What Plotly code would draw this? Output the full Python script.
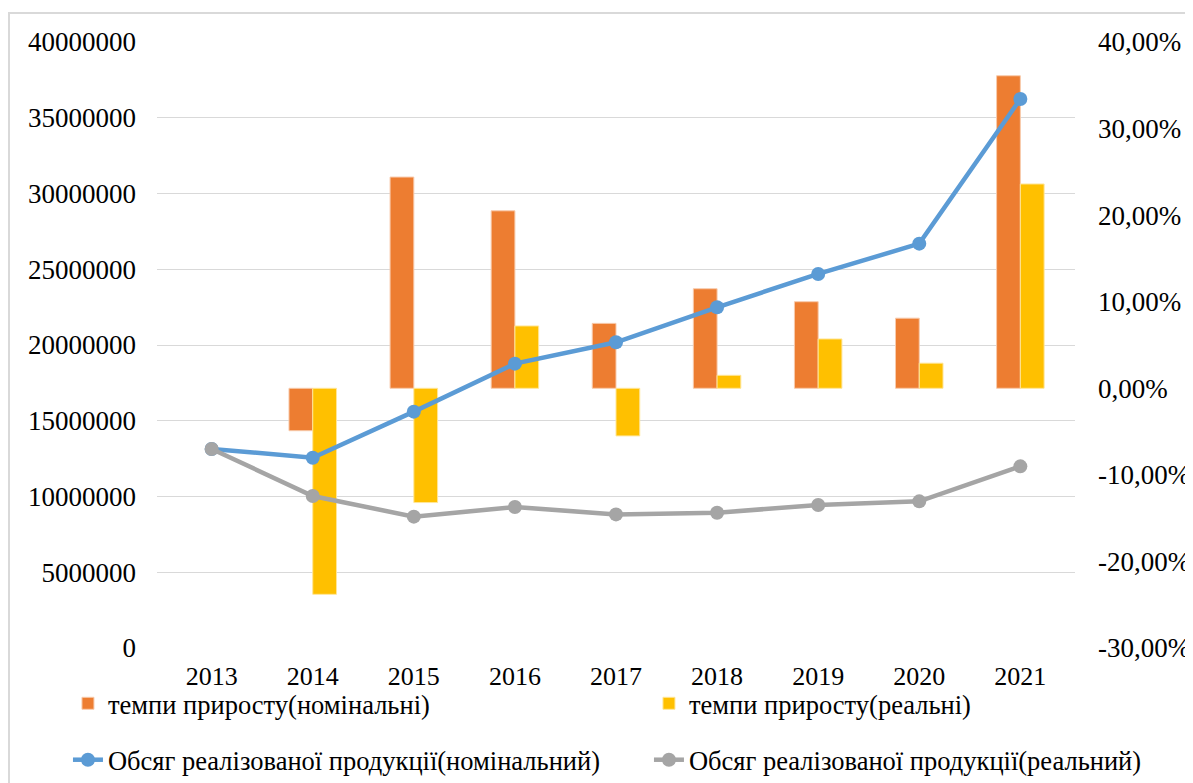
import plotly.graph_objects as go

years = ['2013', '2014', '2015', '2016', '2017', '2018', '2019', '2020', '2021']

# growth rates, fraction
rate_nominal = [None, -0.049, 0.244, 0.205, 0.075, 0.115, 0.100, 0.081, 0.361]
rate_real = [None, -0.238, -0.132, 0.072, -0.055, 0.015, 0.057, 0.029, 0.236]

# sales volume
volume_nominal = [13140000, 12560000, 15600000, 18770000, 20180000, 22490000, 24690000, 26690000, 36240000]
volume_real = [13140000, 10030000, 8670000, 9310000, 8820000, 8930000, 9440000, 9680000, 11990000]

pct_ticks = [-0.3, -0.2, -0.1, 0.0, 0.1, 0.2, 0.3, 0.4]
pct_labels = ['-30,00%', '-20,00%', '-10,00%', '0,00%', '10,00%', '20,00%', '30,00%', '40,00%']

FONT = 'Liberation Serif'
ORANGE = '#ED7D31'
YELLOW = '#FFC000'
BLUE = '#5B9BD5'
GRAY = '#A5A5A5'

fig = go.Figure()

# bars on the primary (right-side) axis so the lines sit on top
fig.add_trace(go.Bar(x=years, y=rate_nominal, name='темпи приросту(номінальні)',
                     marker=dict(color=ORANGE, line=dict(color='#F8CBAD', width=1)),
                     yaxis='y', legend='legend'))
fig.add_trace(go.Bar(x=years, y=rate_real, name='темпи приросту(реальні)',
                     marker=dict(color=YELLOW, line=dict(color='#FFE699', width=1)),
                     yaxis='y', legend='legend2'))

fig.add_trace(go.Scatter(x=years, y=volume_nominal, name='Обсяг реалізованої продукції(номінальний)',
                         mode='lines+markers', line=dict(color=BLUE, width=4.5),
                         marker=dict(size=14, color=BLUE), yaxis='y2', legend='legend3'))
fig.add_trace(go.Scatter(x=years, y=volume_real, name='Обсяг реалізованої продукції(реальний)',
                         mode='lines+markers', line=dict(color=GRAY, width=4.5),
                         marker=dict(size=14, color=GRAY), yaxis='y2', legend='legend4'))


def legend_at(x, y):
    return dict(orientation='h', xref='container', yref='container', x=x, y=y,
                yanchor='middle', xanchor='left',
                font=dict(family=FONT, size=26.5, color='#000000'),
                bgcolor='rgba(0,0,0,0)')


# page body adds an 8px offset, so the figure is 8px smaller than the window
fig.update_layout(
    width=1185, height=775,
    margin=dict(l=149, r=118, t=34, b=135, autoexpand=False),
    paper_bgcolor='white', plot_bgcolor='white',
    font=dict(family=FONT, size=27, color='#000000'),
    showlegend=True,
    barmode='group', bargap=0.53, bargroupgap=0,
    xaxis=dict(showgrid=False, showline=False, ticks='', ticklabelstandoff=10,
               automargin=False, tickfont=dict(family=FONT, size=26)),
    yaxis=dict(side='right', range=[-0.3, 0.4], tickvals=pct_ticks, ticktext=pct_labels,
               showgrid=False, zeroline=False, ticks='', ticklabelstandoff=22,
               automargin=False),
    yaxis2=dict(side='left', overlaying='y', range=[0, 40000000], dtick=5000000,
                tickformat='d', showgrid=True, gridcolor='#D9D9D9', gridwidth=1.3,
                zeroline=False, ticks='', ticklabelstandoff=20, automargin=False),
    legend=legend_at(0.0506, 0.1025),
    legend2=legend_at(0.5409, 0.1025),
    legend3=legend_at(0.0506, 0.0297),
    legend4=legend_at(0.5409, 0.0297),
    shapes=[dict(type='rect', xref='paper', yref='paper', x0=-0.1612, x1=1.1253,
                 y0=-0.23, y1=1.0479, line=dict(color='#D9D9D9', width=2), layer='below')],
)

fig.write_html('out.html')
